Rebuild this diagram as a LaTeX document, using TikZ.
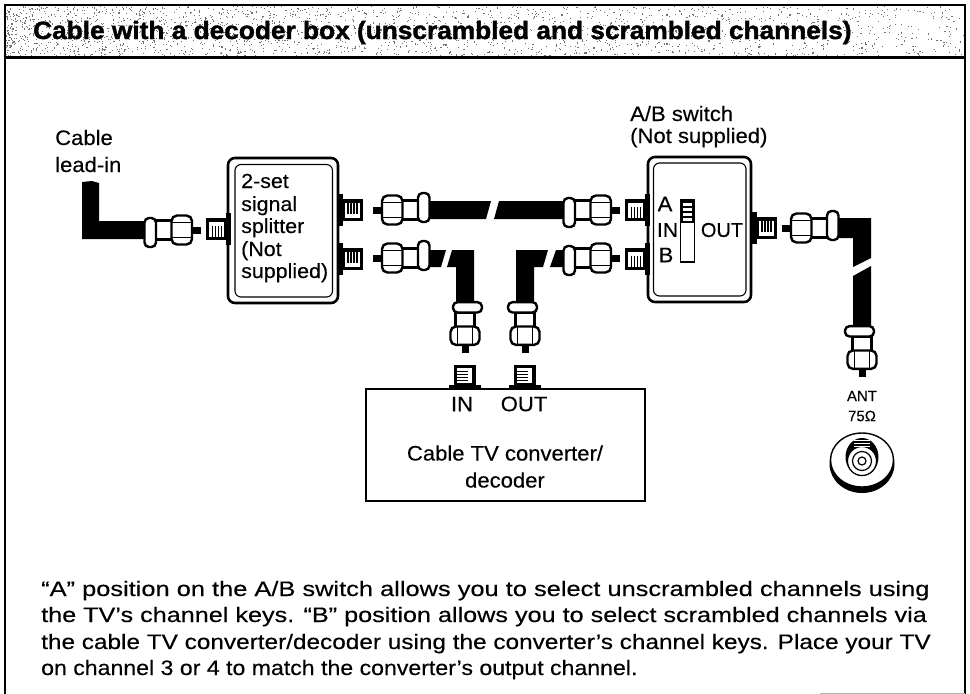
\documentclass[tikz,border=0pt]{standalone}
\usepackage{fontspec}
\usepackage{graphicx}
\setmainfont{Liberation Sans}
\newfontfamily\labf[FakeStretch=1.05,FakeBold=0.25]{Liberation Sans}
\newfontfamily\bodyf[FakeBold=0.25]{Liberation Sans}
\newfontfamily\titlef[FakeBold=1.4]{Liberation Sans Bold}
\newcommand{\Socket}[3]{%
 \begin{scope}[shift={(#1,#2)},rotate=#3]
  \fill[black] (0,-16) rectangle (5,16);
  \fill[black] (5,-11) rectangle (25,11);
  \fill[white] (7,-7.5) rectangle (22,7.5);
  \foreach \q in {9,12,15,18} {\fill[black] (\q,-7.5) rectangle ++(1.5,11);}
 \end{scope}}
\newcommand{\Conn}[5]{%
 \begin{scope}[shift={(#1,#2)},rotate=#3,yscale=#4,xscale=#5]
  \fill[black] (-12,-3.5) rectangle (0,3.5);
  \draw[connline] (-45,-9.5) rectangle (-29,9.5);
  \draw[connline,rounded corners=5.5] (-29.5,-14.5) rectangle (-9,14.5);
  \draw[connline,line width=1.5] (-29.5,-7.5) -- (-9,-7.5) (-29.5,7.5) -- (-9,7.5);
  \draw[connline,rounded corners=4.5] (-56.5,-12) rectangle (-45,17);
 \end{scope}}
\tikzset{
 connline/.style={draw=black,fill=white,line width=2.4},
 boxouter/.style={draw=black,line width=2.6,rounded corners=7,fill=white},
 boxinner/.style={draw=black,line width=1.1,rounded corners=6},
 cable/.style={fill=black},
 lab/.style={font=\labf\fontsize{21}{24}\selectfont,inner sep=0,text=black},
 splab/.style={font=\labf\fontsize{20.4}{24}\selectfont,inner sep=0,text=black,anchor=base west},
 body/.style={font=\bodyf\fontsize{21}{26}\selectfont,inner sep=0,anchor=base west},
 frameline/.style={draw=black,line width=2.8},
}
\begin{document}
\begin{tikzpicture}[x=1pt,y=-1pt]
\useasboundingbox (0,0) rectangle (970,694);
\fill[white] (0,0) rectangle (970,694);
% header stipple
\pgfmathsetseed{7}
\foreach \n in {1,...,2200} {
  \pgfmathsetmacro{\px}{6+958*rnd^1.4}
  \pgfmathsetmacro{\py}{6+50*rnd}
  \fill[black!55] (\px,\py) rectangle ++(1.1,1.1);
}
\draw[frameline] (5,694) -- (5,5) -- (965,5) -- (965,694);
\draw[frameline] (5,57.5) -- (965,57.5);
\draw[black!30,line width=1] (820,693.5) -- (965,693.5);
\node[inner sep=0,anchor=base west,font=\titlef\fontsize{25}{26}\selectfont] (title) at (33,39) {\scalebox{1.05}[1]{Cable with a decoder box (unscrambled and scrambled channels)}};
% cables
\fill[cable] (82,182) -- (92,181) -- (99,183) -- (99,221) -- (146,221) -- (146,239) -- (82,239) -- cycle;
\fill[cable] (423,201) -- (491,201) -- (486,219) -- (423,219) -- cycle;
\fill[cable] (499,201) -- (569,201) -- (569,219) -- (494,219) -- cycle;
\fill[cable] (423,250) -- (446,250) -- (441,267) -- (423,267) -- cycle;
\fill[cable] (452,250) -- (474,250) -- (474,304) -- (456,304) -- (456,267) -- (447,267) -- cycle;
\fill[cable] (516,250) -- (548,250) -- (543,267) -- (534,267) -- (534,304) -- (516,304) -- cycle;
\fill[cable] (556,250) -- (569,250) -- (569,267) -- (550,267) -- cycle;
\fill[cable] (831,218) -- (871,218) -- (871,258) -- (853,267) -- (853,238) -- (831,238) -- cycle;
\fill[cable] (853,276) -- (871,266) -- (871,329) -- (853,329) -- cycle;
% splitter
\node[boxouter,minimum width=110,minimum height=145,inner sep=0] (splitter) at (283,230.5) {};
\draw[boxinner] (235,164.5) rectangle (332.5,297);
\node[splab] (sp1) at (241,188) {2-set};
\node[splab] (sp2) at (241,211) {signal};
\node[splab] (sp3) at (241,233) {splitter};
\node[splab] (sp4) at (241,256) {(Not};
\node[splab] (sp5) at (241,278) {supplied)};
% switch
\node[boxouter,minimum width=103,minimum height=145,inner sep=0] (switch) at (699.5,229.5) {};
\draw[boxinner] (653.5,163) rectangle (746,296);
\draw[black,line width=1.3,fill=white] (680.5,200) rectangle (694.5,262);
\fill[black] (680.5,199) rectangle (694.5,223);
\foreach \q in {203,208,213,218} {\fill[white] (683,\q) rectangle (692,\q+2.6);}
\node[lab] (swA) at (665,204) {A};
\node[lab,font=\labf\fontsize{20}{24}\selectfont] (swIN) at (667.5,230) {IN};
\node[lab] (swB) at (666,255) {B};
\node[lab,font=\bodyf\fontsize{20}{24}\selectfont] (swOUT) at (722,230) {OUT};
% sockets
\Socket{231}{229}{180}
\Socket{338}{210}{0}
\Socket{338}{259}{0}
\Socket{650}{210}{180}
\Socket{650}{259}{180}
\Socket{752}{228}{0}
% connectors
\Conn{201}{230}{0}{1}{1}
\Conn{373}{210}{180}{1}{1}
\Conn{373}{258}{180}{1}{1}
\Conn{620}{210}{0}{1}{1}
\Conn{620}{258}{0}{1}{1}
\Conn{782}{228}{180}{1}{1}
\Conn{465}{353}{-90}{-1}{.9}
\Conn{525}{353}{-90}{1}{.9}
\Conn{862}{377}{-90}{1}{.9}
% decoder
\node[draw=black,line width=2.4,fill=white,minimum width=279,minimum height=112,inner sep=0] (decoder) at (505.5,445) {};
\Socket{464.5}{390}{90}
\Socket{524.5}{390}{90}
\node[lab] (dIN) at (462,404) {IN};
\node[lab] (dOUT) at (524,404) {OUT};
\node[lab] (dec1) at (505,453) {Cable TV converter/};
\node[lab] (dec2) at (505,480) {decoder};
% labels
\node[lab,anchor=base west] (lead1) at (55,145) {Cable};
\node[lab,anchor=base west] (lead2) at (55,172) {lead-in};
\node[lab,anchor=base west] (ab1) at (630,121) {A/B switch};
\node[lab,anchor=base west] (ab2) at (630,143) {(Not supplied)};
% ANT
\node[lab,font=\bodyf\fontsize{15}{18}\selectfont] (ant) at (862,396) {ANT};
\node[lab,font=\bodyf\fontsize{15}{18}\selectfont] (ohm) at (862,416) {75Ω};
\fill[black] (862,464) ellipse [x radius=32.5,y radius=29];
\draw[black,fill=white,line width=1.4] (862,460) ellipse [x radius=31.5,y radius=27];
\fill[black] (862,457) ellipse [x radius=16.5,y radius=19];
\draw[black,fill=white,line width=1.2] (862,461) circle (14.5);
\draw[black,line width=1.2] (862,461) circle (9.5);
\draw[black,line width=1.2] (862,461) circle (4);
\foreach \q in {440,443,446} {\draw[white,line width=.7] (854,\q) -- (870,\q);}
% body
\node[body] (t1) at (41,596) {\scalebox{1.21}[1]{“A” position on the A/B switch allows you to select unscrambled channels using}};
\node[body] (t2) at (41,622) {\scalebox{1.2}[1]{the TV’s channel keys. “B” position allows you to select scrambled channels via}};
\node[body] (t3) at (41,649) {\scalebox{1.16}[1]{the cable TV converter/decoder using the converter’s channel keys. Place your TV}};
\node[body] (t4) at (41,675) {\scalebox{1.1}[1]{on channel 3 or 4 to match the converter’s output channel.}};
\end{tikzpicture}
\end{document}
